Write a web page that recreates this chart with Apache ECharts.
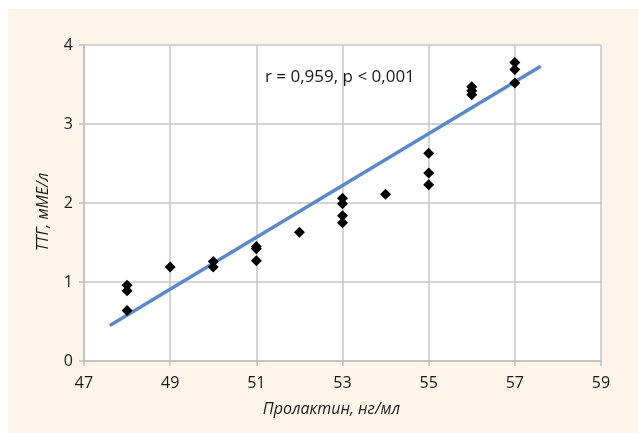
<!DOCTYPE html>
<html>
<head>
<meta charset="utf-8">
<script src="https://cdn.jsdelivr.net/npm/echarts@6/dist/echarts.min.js"></script>
<style>
  html, body { margin: 0; padding: 0; background: #fff; }
  #chart { width: 638px; height: 433px; }
</style>
</head>
<body>
<div id="chart"></div>
<script>
  // Пролактин (нг/мл) vs ТТГ (мМЕ/л)
  var prolactin = [48, 48, 48, 49, 50, 50, 51, 51, 51, 52, 53, 53, 53, 53, 54, 55, 55, 55, 56, 56, 56, 57, 57, 57];
  var ttg = [0.96, 0.89, 0.64, 1.19, 1.26, 1.19, 1.45, 1.42, 1.27, 1.63, 2.06, 1.99, 1.84, 1.75, 2.11, 2.63, 2.38, 2.23, 3.47, 3.42, 3.37, 3.78, 3.69, 3.52];
  // linear trend line ends
  var trendX = [47.6, 57.6];
  var trendY = [0.45, 3.73];
  var xTicks = [47, 49, 51, 53, 55, 57, 59];
  var yTicks = [0, 1, 2, 3, 4];

  var font = '"Open Sans", "Noto Sans", sans-serif';
  var myChart = echarts.init(document.getElementById('chart'));

  var option = {
    animation: false,
    textStyle: { fontFamily: font, color: '#1a1a1a' },
    graphic: [
      {
        type: 'rect', z: -10,
        shape: { x: 8, y: 9, width: 630, height: 424 },
        style: { fill: '#fef5ea' }
      },
      {
        type: 'text', left: 265, top: 69, z: 10,
        style: { text: 'r = 0,959, p < 0,001', font: '17px ' + font, fill: '#1a1a1a' }
      }
    ],
    grid: {
      left: 84, right: 37, top: 45, bottom: 72,
      show: true, backgroundColor: '#fff', borderWidth: 0
    },
    xAxis: {
      type: 'value',
      min: xTicks[0], max: xTicks[xTicks.length - 1], interval: 2,
      name: 'Пролактин, нг/мл',
      nameLocation: 'middle', nameGap: 40,
      nameTextStyle: { fontStyle: 'italic', fontSize: 16, color: '#1a1a1a', padding: [0, 22, 0, 0] },
      axisLine: { show: true, lineStyle: { color: '#bfbfbf', width: 1.5 } },
      axisTick: { show: true, length: 5, lineStyle: { color: '#bfbfbf', width: 1.5 } },
      splitLine: { show: true, lineStyle: { color: '#c6c6c6', width: 1.5 } },
      axisLabel: { fontSize: 16, color: '#1a1a1a', margin: 14 }
    },
    yAxis: {
      type: 'value',
      min: yTicks[0], max: yTicks[yTicks.length - 1], interval: 1,
      name: 'ТТГ, мМЕ/л',
      nameLocation: 'middle', nameGap: 33,
      nameTextStyle: { fontStyle: 'italic', fontSize: 16, color: '#1a1a1a', padding: [0, 18, 0, 0] },
      axisLine: { show: true, lineStyle: { color: '#bfbfbf', width: 1.5 } },
      axisTick: { show: true, length: 5, lineStyle: { color: '#bfbfbf', width: 1.5 } },
      splitLine: { show: true, lineStyle: { color: '#c6c6c6', width: 1.5 } },
      axisLabel: { fontSize: 16, color: '#1a1a1a', margin: 11 }
    },
    series: [
      {
        type: 'line',
        data: trendX.map(function (x, i) { return [x, trendY[i]]; }),
        showSymbol: false,
        lineStyle: { color: '#5b89c8', width: 3.5 },
        z: 2
      },
      {
        type: 'scatter',
        symbol: 'diamond',
        symbolSize: 11,
        itemStyle: { color: '#000', opacity: 1 },
        data: prolactin.map(function (x, i) { return [x, ttg[i]]; }),
        z: 3
      }
    ]
  };
  myChart.setOption(option, true);
</script>
</body>
</html>
